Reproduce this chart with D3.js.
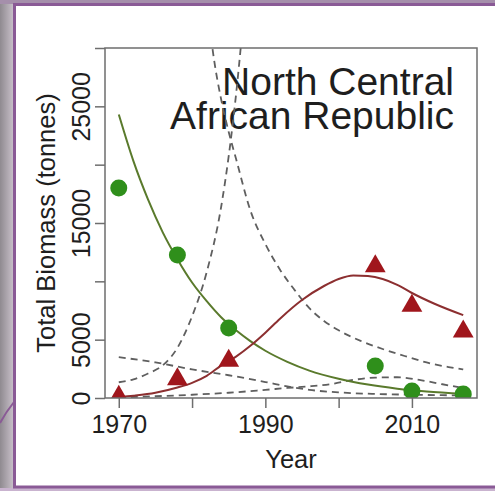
<!DOCTYPE html>
<html><head><meta charset="utf-8">
<script src="https://cdn.jsdelivr.net/npm/d3@7"></script>
<style>html,body{margin:0;padding:0;background:#fff;overflow:hidden}svg{display:block}</style>
</head><body>
<svg id="chart" width="495" height="491"></svg>
<script>
// ---- data ----
const xTicks = [1970, 1980, 1990, 2000, 2010];
const xTickLabels = ["1970", "", "1990", "", "2010"];
const yTicks = [0, 5000, 10000, 15000, 20000, 25000, 30000];
const yTickLabels = ["0", "5000", "", "15000", "", "25000", ""];

const obsYears = [1970, 1978, 1985, 2005, 2010, 2017];
const greenObs = [18000, 12250, 6000, 2750, 600, 340];
const redObs = [100, 1600, 3200, 11300, 7900, 5700];

const greenFitYears = [1970,1972,1974,1976,1978,1980,1982,1984,1986,1988,1990,1993,1996,2000,2004,2008,2012,2017];
const greenFit = [24300,20300,17000,14200,11900,9900,8300,6900,5800,4850,4050,3100,2350,1650,1150,800,560,360];

const redFitYears = [1970,1972,1975,1978,1980,1982,1984,1986,1988,1990,1992,1995,1998,2000,2002,2004,2006,2008,2010,2013,2017];
const redFit = [80,200,450,900,1300,1900,2800,3550,4500,5600,6800,8400,9600,10200,10500,10450,10200,9700,9000,8100,7100];

const dashAYears = [1970,1975,1980,1985,1990,1993,1996,2000,2005,2010,2017];
const dashA = [3500,3050,2450,1950,1370,1000,700,480,350,280,220];
const dashBYears = [1970,1972,1974,1976,1978,1980,1982,1984,1986,1987.5];
const dashB = [1350,1600,2100,2800,4300,7000,10800,16500,26000,36000];
const dashCYears = [1970,1975,1980,1985,1990,1993,1996,1999,2002,2005,2008,2011,2014,2017];
const dashC = [60,150,280,450,700,860,1000,1200,1550,1750,1780,1550,1200,850];
const dashDYears = [1982,1983,1984,1985,1986,1988,1990,1992,1994,1996,1998,2000,2003,2006,2009,2012,2015,2017];
const dashD = [34000,29000,25500,22800,20500,16000,13200,11000,9250,7700,6600,5800,4900,4200,3600,3050,2650,2450];

const titleLines = ["North Central", "African Republic"];

// ---- drawing ----
const svg = d3.select("#chart");
const W = 495, H = 491;
const font = "'Liberation Sans', Arial, Helvetica, sans-serif";

const defs = svg.append("defs");
const lg = defs.append("linearGradient").attr("id", "leftGrad").attr("x1", 0).attr("x2", 1).attr("y1", 0).attr("y2", 0);
lg.append("stop").attr("offset", 0).attr("stop-color", "#8f8a90");
lg.append("stop").attr("offset", 1).attr("stop-color", "#cfc6d0");

// outer frame
svg.append("rect").attr("x", 0).attr("y", 0).attr("width", W).attr("height", H).attr("fill", "#eee6ef");
svg.append("rect").attr("x", 0).attr("y", 0).attr("width", 15).attr("height", H).attr("fill", "url(#leftGrad)");
svg.append("rect").attr("x", 0).attr("y", 0).attr("width", W).attr("height", 4).attr("fill", "#a58fab");
svg.append("rect").attr("x", 0).attr("y", 488).attr("width", W).attr("height", 3).attr("fill", "#c9b3cf");
svg.append("path").attr("d", "M0,423 Q6,412 14,402").attr("fill", "none").attr("stroke", "#8a5a96").attr("stroke-width", 2);
svg.append("rect").attr("x", 14.5).attr("y", 4.5).attr("width", 490).attr("height", 482.5)
  .attr("fill", "#ffffff").attr("stroke", "#8a5a96").attr("stroke-width", 3);

const m = {left: 105, right: 477, top: 48, bottom: 398};
const x = d3.scaleLinear().domain([1968.12, 2018.88]).range([m.left, m.right]);
const y = d3.scaleLinear().domain([0, 30000]).range([m.bottom, m.top]);

defs.append("clipPath").attr("id", "plotClip").append("rect")
  .attr("x", m.left).attr("y", m.top).attr("width", m.right - m.left).attr("height", m.bottom - m.top);

const axisColor = "#6e6e6e";
const textColor = "#1e1e1e";

// title
const title = svg.append("text").attr("font-family", font).attr("font-size", 39).attr("fill", textColor)
  .attr("text-anchor", "end");
titleLines.forEach((t, i) => {
  title.append("tspan").attr("x", 454).attr("y", 95 + i * 34).text(t);
});

const plot = svg.append("g").attr("clip-path", "url(#plotClip)");

const line = (xs, vs) => d3.line().x((d, i) => x(xs[i])).y(d => y(d)).curve(d3.curveMonotoneX)(vs);

const dashStyle = {stroke: "#5f5f5f", width: 1.8, dash: "7,5"};
[[dashAYears, dashA], [dashBYears, dashB], [dashCYears, dashC], [dashDYears, dashD]].forEach(([xs, vs]) => {
  plot.append("path").attr("d", line(xs, vs)).attr("fill", "none")
    .attr("stroke", dashStyle.stroke).attr("stroke-width", dashStyle.width).attr("stroke-dasharray", dashStyle.dash);
});

plot.append("path").attr("d", line(greenFitYears, greenFit)).attr("fill", "none")
  .attr("stroke", "#5a7a2c").attr("stroke-width", 2);
plot.append("path").attr("d", line(redFitYears, redFit)).attr("fill", "none")
  .attr("stroke", "#8c2f30").attr("stroke-width", 2);

plot.selectAll("circle.g").data(obsYears).enter().append("circle")
  .attr("cx", d => x(d)).attr("cy", (d, i) => y(greenObs[i])).attr("r", 8.5).attr("fill", "#2f8f1b");

const tri = d3.symbol().type(d3.symbolTriangle).size(187);
plot.selectAll("path.t").data(obsYears).enter().append("path")
  .attr("d", tri).attr("transform", (d, i) => `translate(${x(d)},${y(redObs[i])})`).attr("fill", "#a0161c");

// box
svg.append("rect").attr("x", m.left).attr("y", m.top).attr("width", m.right - m.left).attr("height", m.bottom - m.top)
  .attr("fill", "none").attr("stroke", axisColor).attr("stroke-width", 1.5);

// x axis
const xa = svg.append("g").attr("transform", `translate(0,${m.bottom})`)
  .call(d3.axisBottom(x).tickValues(xTicks).tickSize(10).tickSizeOuter(0).tickFormat((d, i) => xTickLabels[i]));
xa.select(".domain").remove();
xa.selectAll("line").attr("stroke", axisColor).attr("stroke-width", 1.5);
xa.selectAll("text").attr("font-family", font).attr("font-size", 25).attr("fill", textColor)
  .attr("y", 35).attr("dy", 0);

// y axis
const ya = svg.append("g").attr("transform", `translate(${m.left},0)`)
  .call(d3.axisLeft(y).tickValues(yTicks).tickSize(10).tickSizeOuter(0).tickFormat((d, i) => yTickLabels[i]));
ya.select(".domain").remove();
ya.selectAll("line").attr("stroke", axisColor).attr("stroke-width", 1.5);
ya.selectAll("text").attr("font-family", font).attr("font-size", 25).attr("fill", textColor)
  .attr("transform", "rotate(-90)").attr("x", 0).attr("y", -15).attr("dy", 0).attr("text-anchor", "middle");

// axis titles
svg.append("text").attr("x", (m.left + m.right) / 2).attr("y", 468).attr("text-anchor", "middle")
  .attr("font-family", font).attr("font-size", 25.5).attr("fill", textColor).text("Year");
svg.append("text").attr("transform", `translate(55,${(m.top + m.bottom) / 2}) rotate(-90)`).attr("text-anchor", "middle")
  .attr("font-family", font).attr("font-size", 25.5).attr("fill", textColor).text("Total Biomass (tonnes)");
</script>
</body></html>
